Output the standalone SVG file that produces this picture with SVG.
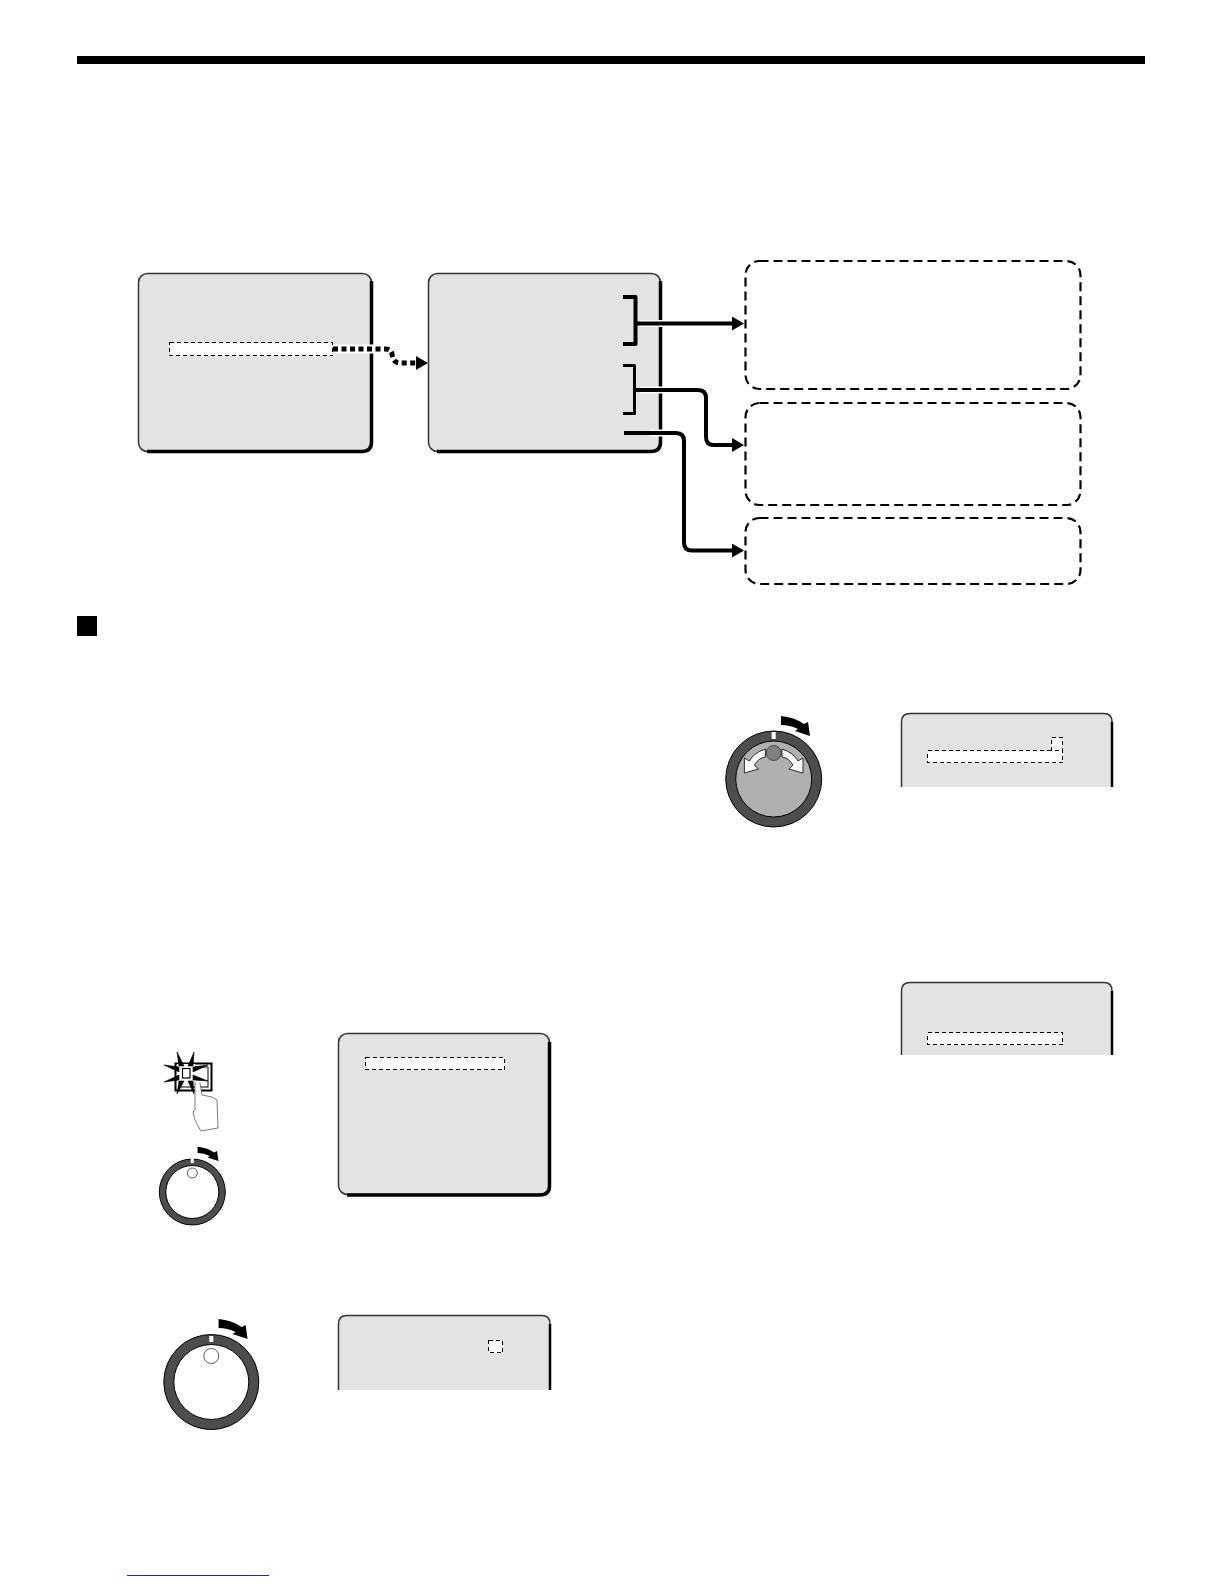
<svg xmlns="http://www.w3.org/2000/svg" xmlns:xlink="http://www.w3.org/1999/xlink" width="1224" height="1584" viewBox="0 0 1224 1584">
<style>
.panel{fill:#e3e3e3;stroke:#333;stroke-width:1.5}
.shade{fill:none;stroke:#000;stroke-width:3.5}
.cut{fill:none;stroke:#333;stroke-width:1.5}
.hl{fill:#fff;stroke:#000;stroke-width:1;stroke-dasharray:4 3;shape-rendering:crispEdges}
.dbox{fill:#fff;stroke:#000;stroke-width:2.2;stroke-dasharray:9 5}
.halo{fill:none;stroke:#fff;stroke-width:7}
.link{fill:none;stroke:#000;stroke-width:4;stroke-linejoin:round}
.ring{fill:#4d4d4d;stroke:#000;stroke-width:1}
</style>
<defs>
<marker id="ah" markerUnits="userSpaceOnUse" markerWidth="12" markerHeight="14" refX="0" refY="7" orient="auto"><path d="M0 0L12 7L0 14Z" fill="#000"/></marker>
<path id="turn" d="M7.300 -63Q20.300 -62 30.300 -55L34.300 -57L36.300 -43L21.300 -48L24.300 -50Q16.300 -54 7.300 -54Z" fill="#000"/>
<path id="wa" d="M782 749Q794 753 798 761L803 758L803 773L789 769L793 765Q789 758 782 757Z" fill="#fff" stroke="#000" stroke-width="0.8"/>
</defs>
<rect id="top-rule" x="77" y="56" width="1068" height="8" fill="#000"/>
<rect id="section-mark" x="77" y="616" width="20" height="20" fill="#000"/>
<rect id="footer-rule" x="127" y="1575" width="142" height="1" fill="#2424a8"/>

<g id="menu-a">
<rect class="panel" x="138.500" y="273.500" width="233" height="178" rx="9"/>
<path class="shade" d="M371.500 281V442Q371.500 451.500 362 451.500H147"/>
<rect class="hl" x="169.500" y="342.500" width="163" height="13"/>
</g>
<g id="menu-b">
<rect class="panel" x="428.500" y="273.500" width="232" height="178" rx="9"/>
<path class="shade" d="M660.500 281V442Q660.500 451.500 651 451.500H437"/>
</g>
<g id="box-1"><rect class="dbox" x="745.500" y="261" width="335" height="128" rx="14"/></g>
<g id="box-2"><rect class="dbox" x="745.500" y="403" width="335" height="102" rx="14"/></g>
<g id="box-3"><rect class="dbox" x="745.500" y="518" width="335" height="66" rx="14"/></g>

<g id="connectors">
<path d="M333 349H380" fill="none" stroke="#fff" stroke-width="9"/>
<path d="M333 349H386Q391 349 392 354Q393 363 400 363H416" fill="none" stroke="#000" stroke-width="5" stroke-dasharray="5 3.500" marker-end="url(#ah)"/>
<path class="halo" d="M640 323.500H676M640 390H676M650 433H676"/>
<path class="link" d="M623 297H635.500V344H623"/>
<path class="link" d="M623 365.500H634.500V413.500H623" style="stroke-width:3"/>
<path class="link" d="M636 323.500H732" marker-end="url(#ah)"/>
<path class="link" d="M635 390H698Q706 390 706 398V437Q706 445 714 445H732" marker-end="url(#ah)"/>
<path class="link" d="M624 433H676Q684 433 684 441V542.500Q684 550.500 692 550.500H732" marker-end="url(#ah)"/>
</g>

<g id="dial-large-a">
<circle class="ring" cx="773.700" cy="779" r="48"/>
<circle cx="773.700" cy="779" r="38" fill="#b0b0b0" stroke="#000" stroke-width="1"/>
<rect x="771.700" y="732" width="4" height="7" fill="#fff"/>
<circle cx="773.700" cy="753" r="7.500" fill="#808080" stroke="#333" stroke-width="0.8"/>
<use xlink:href="#wa" href="#wa"/>
<use xlink:href="#wa" href="#wa" transform="translate(1547.400 0) scale(-1 1)"/>
<use xlink:href="#turn" href="#turn" transform="translate(773.700 779)"/>
</g>
<g id="screen-a">
<path class="panel" d="M901.500 787V722Q901.500 713.500 910 713.500H1104Q1112 713.500 1112 722V787" style="stroke:none"/>
<path class="cut" d="M901.500 787V722Q901.500 713.500 910 713.500H1104Q1112 713.500 1112 722"/>
<path class="shade" d="M1112 722V787" style="stroke-width:2.500"/>
<rect class="hl" x="927.500" y="750.500" width="135" height="12"/>
<rect class="hl" x="1051.500" y="737.500" width="11" height="13"/>
</g>
<g id="screen-b">
<path class="panel" d="M901.500 1055V991Q901.500 982.500 910 982.500H1104Q1112 982.500 1112 991V1055" style="stroke:none"/>
<path class="cut" d="M901.500 1055V991Q901.500 982.500 910 982.500H1104Q1112 982.500 1112 991"/>
<path class="shade" d="M1112 991V1055" style="stroke-width:2.500"/>
<rect class="hl" x="927.500" y="1032.500" width="135" height="12"/>
</g>
<g id="screen-c">
<rect class="panel" x="338.500" y="1033.500" width="211" height="161" rx="9"/>
<path class="shade" d="M549.500 1042V1186Q549.500 1195 540 1195H347"/>
<rect class="hl" x="365.500" y="1057.500" width="139" height="12"/>
</g>
<g id="screen-d">
<path class="panel" d="M338.500 1390V1324Q338.500 1315.500 347 1315.500H542Q550 1315.500 550 1324V1390" style="stroke:none"/>
<path class="cut" d="M338.500 1390V1324Q338.500 1315.500 347 1315.500H542Q550 1315.500 550 1324"/>
<path class="shade" d="M550 1324V1390" style="stroke-width:2.500"/>
<rect class="hl" x="488.500" y="1340.500" width="14" height="12"/>
</g>

<g id="button">
<rect x="175.500" y="1063.500" width="36" height="27" fill="#fff" stroke="#000" stroke-width="2"/>
<rect x="180" y="1067" width="28" height="20" fill="#fff" stroke="#000" stroke-width="1"/>
<rect x="177" y="1064" width="18" height="19" fill="#fff"/>
<path d="M177 1052L179 1066H184ZM194 1052L188 1066H193ZM208 1065L193 1067V1072ZM208 1081L193 1075V1080ZM194 1094L188 1081H193ZM177 1094L179 1081H184ZM164 1082L179 1075V1080ZM164 1065L179 1067V1072Z" fill="#000" stroke="#000" stroke-width="0.6"/>
<rect x="182.500" y="1068.500" width="7.500" height="9.500" fill="#fff" stroke="#000" stroke-width="1.200"/>
<path d="M195 1082V1110L193 1112Q194 1120 201 1131L218 1128L217 1100L212 1097L202 1095L200 1083" fill="#fff" stroke="#444" stroke-width="0.7"/>
</g>
<g id="dial-small">
<circle class="ring" cx="192.300" cy="1192" r="33"/>
<circle cx="192.300" cy="1192" r="26.500" fill="#fff" stroke="#000" stroke-width="1"/>
<rect x="190.800" y="1158" width="3" height="5" fill="#fff"/>
<circle cx="192.300" cy="1173" r="5" fill="#fff" stroke="#333" stroke-width="0.8"/>
<use xlink:href="#turn" href="#turn" transform="translate(192.300 1192) scale(0.72)"/>
</g>
<g id="dial-large-b">
<circle class="ring" cx="211.300" cy="1382" r="47.500"/>
<circle cx="211.300" cy="1382" r="37.500" fill="#fff" stroke="#000" stroke-width="1"/>
<rect x="209.300" y="1336" width="4" height="6" fill="#fff"/>
<circle cx="211.300" cy="1356" r="7.500" fill="#fff" stroke="#333" stroke-width="0.8"/>
<use xlink:href="#turn" href="#turn" transform="translate(211.300 1382)"/>
</g>
</svg>
